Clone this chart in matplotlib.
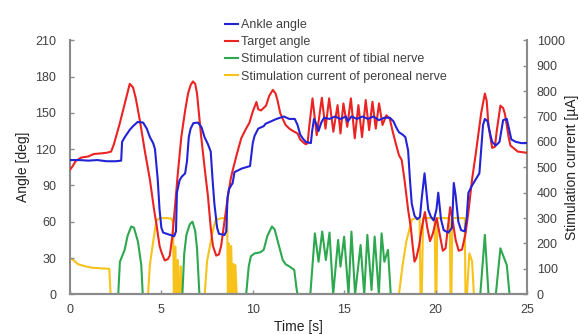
import numpy as np
import matplotlib
matplotlib.use("Agg")
import matplotlib.pyplot as plt

plt.rcParams['font.family'] = ['Liberation Sans', 'DejaVu Sans']

# ankle angle (deg)
ankle_t = [0, 0.5, 1.0, 1.5, 2.0, 2.5, 2.8, 2.85, 3.0, 3.27, 3.45, 3.7, 4.0, 4.2, 4.37, 4.55, 4.65,
           4.8, 4.9, 5.0, 5.1, 5.4, 5.7, 5.8, 5.85, 5.99, 6.1, 6.3, 6.4, 6.5, 6.6, 6.75, 7.0, 7.2,
           7.36, 7.55, 7.7, 7.8, 7.9, 8.05, 8.15, 8.45, 8.55, 8.62, 8.7, 8.9, 9.0, 9.4, 9.85, 10.0,
           10.1, 10.3, 10.6, 10.7, 11.0, 11.3, 11.7, 12.0, 12.3, 12.45, 12.6, 12.73, 12.9, 13.18,
           13.25, 13.35, 13.5, 13.6, 13.75, 13.9, 14.2, 14.5, 14.8, 15.1, 15.2, 15.4, 15.7, 16.0,
           16.3, 16.6, 16.9, 17.2, 17.5, 17.7, 17.85, 18.0, 18.2, 18.35, 18.5, 18.6, 18.7, 18.85,
           19.0, 19.15, 19.25, 19.4, 19.5, 19.6, 19.75, 19.9, 20.05, 20.15, 20.3, 20.45, 20.7,
           20.9, 21.0, 21.1, 21.25, 21.4, 21.6, 21.7, 21.8, 22.0, 22.2, 22.4, 22.5, 22.6, 22.7,
           22.85, 23.0, 23.1, 23.3, 23.5, 23.6, 23.7, 23.9, 24.05, 24.15, 24.4, 24.7, 25.0]
ankle = [111, 111, 110.5, 111, 110, 110, 110.5, 126, 130, 136, 139, 142.5, 142, 137, 130, 125, 120,
         95, 70, 55, 51, 49.5, 48, 52, 84, 94, 97, 100, 110, 130, 137, 141.5, 142, 138,
         130, 124, 118, 95, 75, 55, 50, 49, 52, 80, 87, 92, 101, 104, 106, 125,
         131, 137, 139, 141, 143, 145, 147, 145, 145, 140, 132, 129, 126, 125,
         135, 145, 140, 135, 142, 146, 145, 147, 145, 147, 143, 147, 145, 147,
         145, 147, 144, 146, 146, 143, 138, 134, 132, 130, 119, 95, 75, 65,
         62, 64, 80, 100, 85, 70, 64, 61, 70, 84, 62, 53, 51,
         55, 92, 82, 60, 53, 52, 62, 84, 90, 95, 100, 120, 140, 145,
         143, 132, 126, 123, 126, 135, 144, 145, 135, 128, 126, 125, 125]

# target angle (deg)
target_t = [0, 0.15, 0.3, 0.6, 1.0, 1.3, 1.7, 2.0, 2.25, 2.4, 2.7, 3.0, 3.27, 3.45, 3.6, 3.82, 4.1,
            4.37, 4.6, 4.73, 4.9, 5.0, 5.18, 5.35, 5.46, 5.6, 5.73, 5.9, 6.09, 6.3, 6.46, 6.6, 6.73,
            6.85, 6.95, 7.18, 7.4, 7.55, 7.7, 7.82, 8.0, 8.15, 8.27, 8.45, 8.64, 8.8, 8.91, 9.15,
            9.37, 9.6, 9.82, 10.0, 10.2, 10.3, 10.45, 10.73, 10.9, 11.1, 11.25, 11.36, 11.5, 11.64,
            11.8, 12.0, 12.2, 12.45, 12.6, 12.73, 12.9, 13.0, 13.1, 13.27, 13.5, 13.78, 13.98,
            14.18, 14.41, 14.64, 14.8, 14.96, 15.17, 15.37, 15.58, 15.78, 15.98, 16.18, 16.37,
            16.55, 16.73, 16.91, 17.1, 17.31, 17.5, 17.65, 17.82, 18.0, 18.15, 18.3, 18.5, 18.65,
            18.75, 18.85, 18.95, 19.1, 19.25, 19.42, 19.55, 19.7, 19.85, 20.06, 20.2, 20.4, 20.55,
            20.8, 20.95, 21.1, 21.27, 21.45, 21.64, 21.8, 22.0, 22.2, 22.5, 22.7, 22.8, 22.9, 23.1,
            23.25, 23.35, 23.55, 23.7, 23.8, 24.0, 24.1, 24.5, 25.0]
target = [103, 106, 110, 113, 114, 116, 116.5, 117, 118, 124, 140, 158, 174, 171, 162, 144, 118,
          95, 70, 58, 40, 35, 28, 29, 32, 48, 70, 100, 130, 152, 166, 173, 176,
          174, 166, 130, 100, 81, 55, 40, 32, 33, 40, 60, 81, 96, 103, 117,
          129, 136, 142, 151, 159, 153, 152, 156, 164, 169, 166, 160, 150, 145,
          140, 137, 135, 133, 128, 126, 124, 125, 140, 162, 131.6, 162.5, 137,
          162, 134.4, 156.4, 133, 157.8, 138.5, 162, 129, 156.4, 130, 160.6, 135.8,
          159.2, 137, 157.8, 140, 148, 145, 135, 125, 115, 111, 95, 70, 55,
          40, 27, 30, 40, 55, 68, 55, 44, 50, 63, 52, 36, 38,
          72, 60, 45, 36, 37, 50, 68, 95, 116, 150, 166, 160, 139, 121,
          122, 135, 156, 154, 149, 130, 123, 118, 117]

# stimulation current of tibial nerve (uA)
tibial_t = [0, 2.64, 2.73, 2.99, 3.15, 3.35, 3.5, 3.72, 3.9, 3.98, 6.15, 6.25, 6.37, 6.55, 6.7, 6.85,
            6.95, 7.08, 9.64, 9.78, 9.9, 10.1, 10.4, 10.6, 10.8, 11.05, 11.2, 11.4, 11.64, 11.8,
            12.0, 12.27, 12.4, 12.45, 13.15, 13.4, 13.6, 13.8, 14.0, 14.2, 14.4, 14.67, 14.8, 15.0,
            15.24, 15.4, 15.6, 15.9, 16.1, 16.27, 16.5, 16.67, 16.9, 17.05, 17.2, 17.4, 17.55,
            22.45, 22.7, 22.9, 23.3, 23.55, 23.9, 24.05, 25]
tibial = [0, 0, 128, 175, 230, 267, 262, 207, 115, 0, 0, 160, 234, 275, 286, 250,
          180, 0, 0, 110, 150, 161, 165, 175, 230, 267, 255, 200, 135, 118,
          110, 96, 20, 0, 0, 240, 128, 247, 135, 243, 0, 214, 109, 227,
          0, 247, 0, 194, 0, 234, 17, 227, 0, 240, 128, 175, 0,
          0, 234, 0, 0, 181, 115, 0, 0]

# stimulation current of peroneal nerve (uA)
peroneal_t = [0, 0.18, 0.45, 0.9, 1.27, 2.0, 2.15, 2.22, 4.27, 4.37, 4.55, 4.73, 4.91, 5.3, 5.55,
              5.64, 5.68, 5.77, 5.8, 5.85, 5.9, 5.95, 6.02, 6.06, 6.12, 7.37, 7.5, 7.82, 7.98, 8.3,
              8.6, 8.64, 8.7, 8.76, 8.82, 8.88, 8.94, 9.0, 9.05, 9.12, 18.0, 18.2, 18.4, 18.7, 18.9,
              19.13, 19.18, 19.25, 19.32, 19.95, 20.0, 20.05, 20.1, 20.78, 20.82, 20.87, 20.92,
              21.6, 21.64, 21.72, 21.85, 22.0, 22.1, 25]
peroneal = [142, 135, 118, 109, 104, 101, 100, 0, 0, 115, 207, 290, 300, 300, 298,
            280, 0, 188, 0, 0, 135, 0, 0, 110, 0, 0, 130, 253, 293, 300,
            298, 0, 200, 0, 190, 0, 120, 0, 115, 0, 0, 115, 207, 293, 300,
            300, 0, 0, 300, 300, 0, 0, 300, 300, 0, 0, 300,
            300, 0, 0, 161, 130, 0, 0]

c_blue = '#2323d6'
c_red = '#ea2323'
c_green = '#2ea84f'
c_yellow = '#f7c21a'
c_spine = '#8a8a8a'
c_text = '#404040'

fig = plt.figure(figsize=(5.79, 3.34), dpi=100)
ax = fig.add_axes([0.1209, 0.1189, 0.7891, 0.7604])
ax2 = ax.twinx()

l1, = ax.plot(ankle_t, ankle, color=c_blue, lw=1.5, zorder=4)
l2, = ax.plot(target_t, target, color=c_red, lw=1.5, zorder=3)
l3, = ax2.plot(tibial_t, tibial, color=c_green, lw=1.5, zorder=2)
l4, = ax2.plot(peroneal_t, peroneal, color=c_yellow, lw=1.5, zorder=1)

# angle axes on top of the current axes
ax.set_zorder(ax2.get_zorder() + 1)
ax.patch.set_visible(False)

ax.set_xlim(0, 25)
ax.set_ylim(0, 210)
ax2.set_ylim(0, 1000)
ax.set_xticks(np.arange(0, 26, 5))
ax.set_yticks(np.arange(0, 211, 30))
ax2.set_yticks(np.arange(0, 1001, 100))

for a in (ax, ax2):
    a.spines['top'].set_visible(False)
    for s in ('left', 'right', 'bottom'):
        a.spines[s].set_color(c_spine)
        a.spines[s].set_linewidth(1.5)
    a.tick_params(direction='in', length=3, width=1, color=c_spine,
                  labelcolor=c_text, labelsize=9)
ax.spines['right'].set_visible(False)
ax2.spines['left'].set_visible(False)
ax.tick_params(axis='y', pad=10)
ax.tick_params(axis='x', pad=7)
ax2.tick_params(axis='y', pad=7)

ax.set_xlabel('Time [s]', fontsize=10, color='#222222', labelpad=3)
ax.set_ylabel('Angle [deg]', fontsize=10, color='#222222', labelpad=4)
ax2.set_ylabel('Stimulation current [µA]', fontsize=10, color='#222222', labelpad=0)

fig.legend([l1, l2, l3, l4],
           ['Ankle angle', 'Target angle', 'Stimulation current of tibial nerve',
            'Stimulation current of peroneal nerve'],
           loc='upper left', bbox_to_anchor=(0.378, 0.962), frameon=False,
           fontsize=9, borderpad=0, handlelength=1.05, handletextpad=0.2,
           labelspacing=0.42, labelcolor=c_text)

fig.savefig('out.png', dpi=100)
